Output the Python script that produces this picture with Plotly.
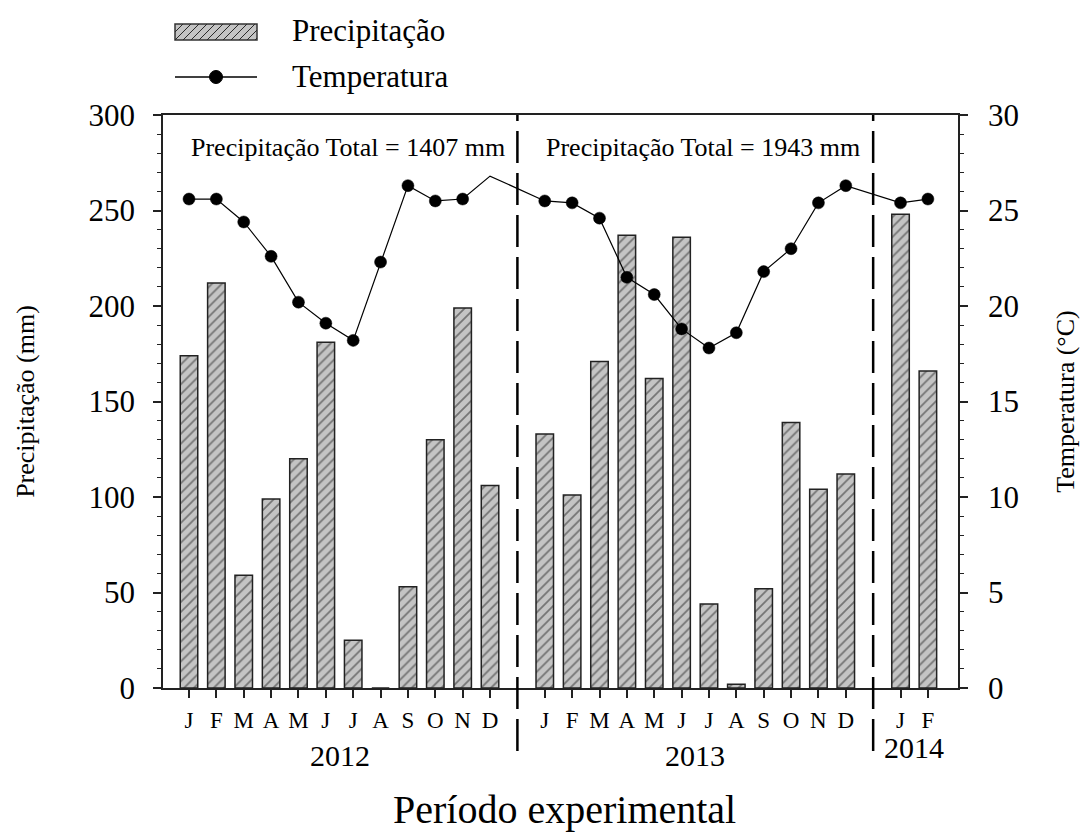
import plotly.graph_objects as go

# ---- data ----
years = ["2012", "2013", "2014"]
months_per_year = [
    ["J", "F", "M", "A", "M", "J", "J", "A", "S", "O", "N", "D"],
    ["J", "F", "M", "A", "M", "J", "J", "A", "S", "O", "N", "D"],
    ["J", "F"],
]
precip_2012 = [174, 212, 59, 99, 120, 181, 25, 0, 53, 130, 199, 106]
precip_2013 = [133, 101, 171, 237, 162, 236, 44, 2, 52, 139, 104, 112]
precip_2014 = [248, 166]
temp_2012 = [25.6, 25.6, 24.4, 22.6, 20.2, 19.1, 18.2, 22.3, 26.3, 25.5, 25.6, 26.8]
temp_2013 = [25.5, 25.4, 24.6, 21.5, 20.6, 18.8, 17.8, 18.6, 21.8, 23.0, 25.4, 26.3]
temp_2014 = [25.4, 25.6]
total_labels = ["Precipitação Total = 1407 mm", "Precipitação Total = 1943 mm"]
series_names = ["Precipitação", "Temperatura"]

precip = precip_2012 + precip_2013 + precip_2014
temp = temp_2012 + temp_2013 + temp_2014

# positions: one empty slot between years
x_pos, tick_text, year_centers, separators = [], [], [], []
start = 0
for yi, ms in enumerate(months_per_year):
    xs = list(range(start, start + len(ms)))
    x_pos += xs
    tick_text += ms
    year_centers.append(sum(xs) / len(xs))
    if yi < len(months_per_year) - 1:
        separators.append(xs[-1] + 1)
    start = xs[-1] + 2

FONT = "Liberation Serif, Times New Roman, serif"
OFF = 8  # page body margin of the browser
W, H = 1089 - OFF, 834 - OFF
ML, MR, MT, MB = 163 - OFF, 131, 115 - OFF, 146
PW, PH = W - ML - MR, H - MT - MB

def px(xp):
    return (xp - OFF - ML) / PW

def py(yp):
    return (H - MB - (yp - OFF)) / PH

marker_sizes = [12] * len(temp)
marker_sizes[11] = 0  # no marker drawn for Dec 2012 in the original

BAR_FILL = "#c4c4c4"
fig = go.Figure()
fig.add_trace(go.Bar(
    x=x_pos, y=precip, name=series_names[0], width=0.64,
    marker=dict(color=BAR_FILL, line=dict(color="#222222", width=1.5),
                pattern=dict(shape="/", fgcolor="#222222", bgcolor=BAR_FILL,
                             size=7, solidity=0.25)),
    showlegend=False,
))
fig.add_trace(go.Scatter(
    x=x_pos, y=temp, name=series_names[1], yaxis="y2", mode="lines+markers",
    line=dict(color="black", width=1.2),
    marker=dict(color="black", size=marker_sizes, symbol="circle", opacity=1,
                line=dict(color="black", width=0.5)),
    showlegend=False,
))

shapes = []
for s in separators:
    shapes.append(dict(type="line", xref="x", yref="paper", x0=s, x1=s,
                       y0=-0.11, y1=1.0,
                       line=dict(color="black", width=2.5, dash="32px,10px")))

# ---- custom legend (key drawn in paper coordinates) ----
kx0, kx1 = 175, 257
ky0, ky1 = 24, 40
shapes.append(dict(type="rect", xref="paper", yref="paper",
                   x0=px(kx0), x1=px(kx1), y0=py(ky1), y1=py(ky0),
                   fillcolor=BAR_FILL, line=dict(color="#333333", width=1.5)))
hatch = []
step = 8
k = kx0 - (ky1 - ky0)
while k < kx1:
    xa, ya = k, ky1
    xb, yb = k + (ky1 - ky0), ky0
    if xa < kx0:
        ya = ky1 - (kx0 - xa)
        xa = kx0
    if xb > kx1:
        yb = ky0 + (xb - kx1)
        xb = kx1
    if xb > xa:
        hatch.append(f"M{px(xa)},{py(ya)} L{px(xb)},{py(yb)}")
    k += step
shapes.append(dict(type="path", xref="paper", yref="paper", path=" ".join(hatch),
                   line=dict(color="#2a2a2a", width=1)))
ly = 77
shapes.append(dict(type="line", xref="paper", yref="paper",
                   x0=px(kx0), x1=px(kx1), y0=py(ly), y1=py(ly),
                   line=dict(color="black", width=1.5)))
r = 6.5
shapes.append(dict(type="circle", xref="paper", yref="paper",
                   x0=px(216 - r), x1=px(216 + r), y0=py(ly + r), y1=py(ly - r),
                   fillcolor="black", line=dict(color="black", width=1)))

annotations = []
for name, yy in zip(series_names, [30, 77]):
    annotations.append(dict(x=px(290), y=py(yy), xref="paper", yref="paper",
                            text=name, showarrow=False, xanchor="left",
                            yanchor="middle",
                            font=dict(family=FONT, size=31, color="black")))
for i, txt in enumerate(total_labels):
    annotations.append(dict(x=year_centers[i] + 0.3, y=py(147), xref="x", yref="paper",
                            text=txt, showarrow=False, xanchor="center",
                            yanchor="middle",
                            font=dict(family=FONT, size=26, color="black")))
year_y = [755, 755, 748]
for i, yr in enumerate(years):
    annotations.append(dict(x=year_centers[i], y=py(year_y[i]),
                            xref="x", yref="paper", text=yr, showarrow=False,
                            xanchor="center", yanchor="middle",
                            font=dict(family=FONT, size=30, color="black")))
annotations.append(dict(x=px(564), y=py(809), xref="paper", yref="paper",
                        text="Período experimental", showarrow=False,
                        xanchor="center", yanchor="middle",
                        font=dict(family=FONT, size=40, color="black")))

axis_common = dict(showline=True, linecolor="#222222", linewidth=1.5,
                   showgrid=False, zeroline=False, ticks="outside",
                   tickcolor="#222222", tickwidth=1.5, automargin=False)

fig.update_layout(
    width=W, height=H,
    margin=dict(l=ML, r=MR, t=MT, b=MB, autoexpand=False),
    paper_bgcolor="white", plot_bgcolor="white",
    font=dict(family=FONT, color="black"),
    showlegend=False,
    xaxis=dict(range=[-0.95, 28.1], tickvals=x_pos, ticktext=tick_text,
               tickfont=dict(family=FONT, size=23), ticklen=8,
               ticklabelstandoff=3, mirror=True, **axis_common),
    yaxis=dict(range=[0, 300], dtick=50, ticklen=8,
               tickfont=dict(family=FONT, size=31), ticklabelstandoff=12,
               title=dict(text="Precipitação (mm)", font=dict(family=FONT, size=26),
                          standoff=46),
               minor=dict(dtick=10, ticks="outside", ticklen=4,
                          tickcolor="#222222", tickwidth=1.2),
               **axis_common),
    yaxis2=dict(range=[0, 30], dtick=5, ticklen=8, overlaying="y", side="right",
                tickfont=dict(family=FONT, size=31), ticklabelstandoff=14,
                title=dict(text="Temperatura (°C)", font=dict(family=FONT, size=26),
                           standoff=38),
                minor=dict(dtick=1, ticks="outside", ticklen=4,
                           tickcolor="#222222", tickwidth=1.2),
                **axis_common),
    shapes=shapes,
    annotations=annotations,
)

fig.write_html("out.html")
